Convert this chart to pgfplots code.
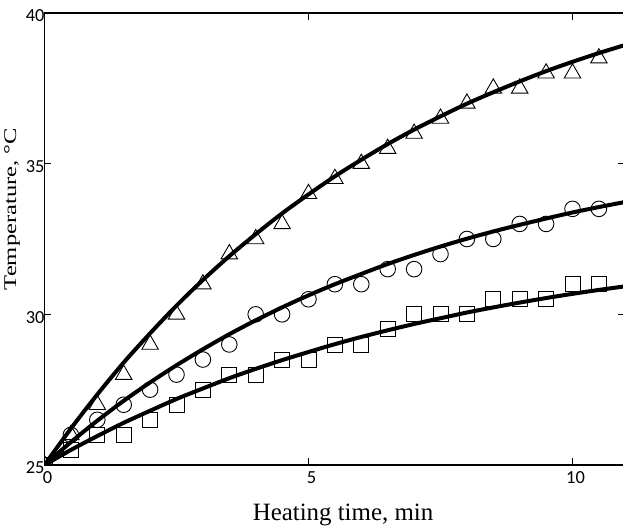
\documentclass[border=0pt]{standalone}
\usepackage{pgfplots}
\pgfplotsset{compat=1.18}
\usepackage{fontspec}
\setmainfont{Liberation Serif}
\newfontfamily\tickfont{Carlito}
\begin{document}
\begin{tikzpicture}
\begin{axis}[
  scale only axis, width=580.8bp, height=452bp,
  xmin=0, xmax=11, ymin=25, ymax=40,
  xtick={0,5,10}, ytick={25,30,35,40},
  tick align=inside, major tick length=7bp,
  axis line style={line width=1.3bp},
  every tick/.style={black, line width=1bp},
  /pgf/number format/assume math mode=true,
  tick label style={font=\tickfont\fontsize{18.5}{18.5}\selectfont},
  xticklabel style={xshift=3bp,yshift=-3bp},
  yticklabel style={xshift=3.5bp,yshift=-3bp},
  xlabel={Heating time, min},
  ylabel={\scalebox{1.37}[1]{Temperature, °C}},
  every axis x label/.style={at={(axis description cs:0.514,-0.1217)}, anchor=base, font=\fontsize{25}{25}\selectfont},
  every axis y label/.style={at={(axis description cs:-0.056,0.566)}, anchor=center, rotate=90, font=\fontsize{18}{18}\selectfont},
  clip marker paths=true,
]
% measured points
\addplot[only marks, mark=triangle, mark size=9.5bp, mark options={line width=0.9bp, black}] coordinates {
(0,25) (0.5,26) (1,27) (1.5,28) (2,29) (2.5,30) (3,31) (3.5,32) (4,32.5) (4.5,33) (5,34) (5.5,34.5) (6,35) (6.5,35.5) (7,36) (7.5,36.5) (8,37) (8.5,37.5) (9,37.5) (9.5,38) (10,38) (10.5,38.5)};
\addplot[only marks, mark=o, mark size=7.8bp, mark options={line width=0.9bp, black}] coordinates {
(0,25) (0.5,26) (1,26.5) (1.5,27) (2,27.5) (2.5,28) (3,28.5) (3.5,29) (4,30) (4.5,30) (5,30.5) (5.5,31) (6,31) (6.5,31.5) (7,31.5) (7.5,32) (8,32.5) (8.5,32.5) (9,33) (9.5,33) (10,33.5) (10.5,33.5)};
\addplot[only marks, mark=square, mark size=7.5bp, mark options={line width=0.9bp, black}] coordinates {
(0,25) (0.5,25.5) (1,26) (1.5,26) (2,26.5) (2.5,27) (3,27.5) (3.5,28) (4,28) (4.5,28.5) (5,28.5) (5.5,29) (6,29) (6.5,29.5) (7,30) (7.5,30) (8,30) (8.5,30.5) (9,30.5) (9.5,30.5) (10,31) (10.5,31)};
% fitted curves
\addplot[black, line width=4bp, smooth, no marks] coordinates {
(0,25) (0.5,26.21) (1,27.34) (1.5,28.40) (2,29.37) (2.5,30.29) (3,31.14) (3.5,31.93) (4,32.66) (4.5,33.35) (5,33.98) (5.5,34.58) (6,35.13) (6.5,35.65) (7,36.13) (7.5,36.57) (8,36.99) (8.5,37.37) (9,37.73) (9.5,38.07) (10,38.38) (10.5,38.67) (11,38.94)};
\addplot[black, line width=4bp, smooth, no marks] coordinates {
(0,25) (0.5,25.76) (1,26.47) (1.5,27.13) (2,27.74) (2.5,28.31) (3,28.84) (3.5,29.34) (4,29.80) (4.5,30.23) (5,30.63) (5.5,31.00) (6,31.34) (6.5,31.67) (7,31.97) (7.5,32.25) (8,32.51) (8.5,32.75) (9,32.97) (9.5,33.18) (10,33.38) (10.5,33.56) (11,33.73)};
\addplot[black, line width=4bp, smooth, no marks] coordinates {
(0,25) (0.5,25.50) (1,25.96) (1.5,26.40) (2,26.80) (2.5,27.19) (3,27.54) (3.5,27.88) (4,28.19) (4.5,28.48) (5,28.75) (5.5,29.01) (6,29.25) (6.5,29.47) (7,29.68) (7.5,29.87) (8,30.06) (8.5,30.23) (9,30.39) (9.5,30.54) (10,30.68) (10.5,30.81) (11,30.93)};
\end{axis}
\pgfresetboundingbox
\path (-44.5bp,-61bp) rectangle (578.5bp,465bp);
\end{tikzpicture}
\end{document}
